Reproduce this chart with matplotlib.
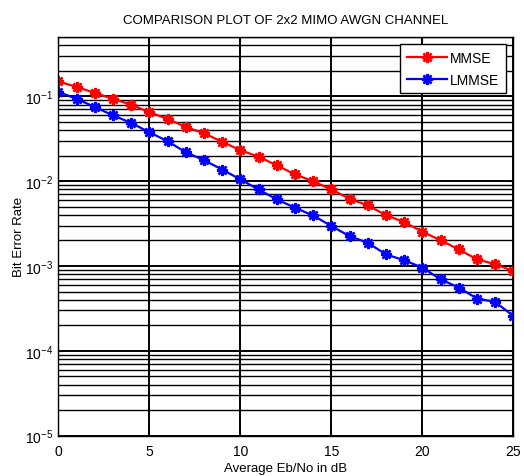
import matplotlib
matplotlib.use("Agg")
import matplotlib.pyplot as plt
from matplotlib.ticker import LogLocator, FixedLocator

plt.rcParams['font.family'] = ['Liberation Sans', 'DejaVu Sans']
plt.rcParams['mathtext.fontset'] = 'custom'
plt.rcParams['mathtext.rm'] = 'Liberation Sans'

# Eb/No in dB
snr_db = list(range(0, 26))

# bit error rates
ber_mmse = [0.150, 0.129, 0.110, 0.0932, 0.0798, 0.0649, 0.0542, 0.0436, 0.0367,
            0.0291, 0.0232, 0.0194, 0.0154, 0.0120, 0.0100, 0.00798, 0.00621,
            0.00518, 0.00398, 0.00329, 0.00254, 0.00201, 0.00157, 0.00120,
            0.00105, 0.000873]
ber_lmmse = [0.113, 0.0932, 0.0750, 0.0597, 0.0486, 0.0377, 0.0296, 0.0219, 0.0177,
             0.0137, 0.0105, 0.00798, 0.00610, 0.00486, 0.00394, 0.00296, 0.00225,
             0.00188, 0.00137, 0.00117, 0.000957, 0.000698, 0.000557, 0.000414,
             0.000377, 0.000258]

xticks = [0, 5, 10, 15, 20, 25]

fig = plt.figure(figsize=(5.24, 4.77), dpi=100)
ax = fig.add_axes([0.1113, 0.0845, 0.8683, 0.8358])

star = (8, 2, 0)
ax.semilogy(snr_db, ber_mmse, color='red', linewidth=1.6, marker=star,
            markersize=8, markeredgewidth=1.8, label='MMSE')
ax.semilogy(snr_db, ber_lmmse, color='blue', linewidth=1.6, marker=star,
            markersize=8, markeredgewidth=1.8, label='LMMSE')

ax.set_xlim(0, 25)
ax.set_ylim(1e-5, 0.5)
ax.xaxis.set_major_locator(FixedLocator(xticks))
ax.yaxis.set_major_locator(LogLocator(base=10, numticks=10))
ax.yaxis.set_minor_locator(LogLocator(base=10, subs=range(2, 10), numticks=20))
ax.yaxis.set_minor_formatter(plt.NullFormatter())

ax.grid(True, which='major', color='black', linewidth=1.4)
ax.grid(True, which='minor', axis='y', color='black', linewidth=1.0)
ax.tick_params(which='both', direction='in', top=True, right=True,
               labelsize=10, colors='black')
ax.tick_params(axis='x', pad=6)
for s in ax.spines.values():
    s.set_linewidth(1.0)

ax.set_title('COMPARISON PLOT OF 2x2 MIMO AWGN CHANNEL', fontsize=9.5, pad=10)
ax.set_xlabel('Average Eb/No in dB', fontsize=9.5, labelpad=3)
ax.set_ylabel('Bit Error Rate', fontsize=9.5, labelpad=0)

leg = ax.legend(loc='upper right', fontsize=10, fancybox=False, framealpha=1,
                edgecolor='black', borderaxespad=0.5, handlelength=2.9,
                labelspacing=0.55, borderpad=0.5, handletextpad=0.2)
leg.get_frame().set_linewidth(1.0)

fig.savefig('out.png', dpi=100)
